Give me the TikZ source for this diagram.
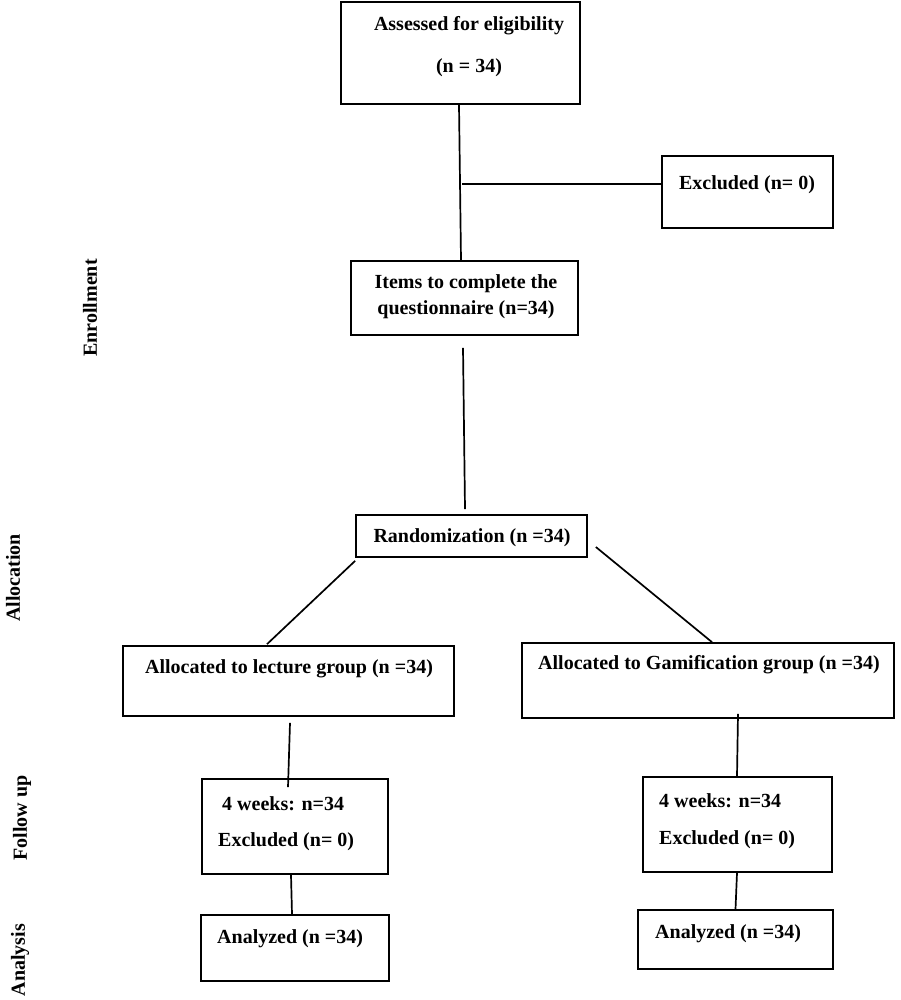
\documentclass[tikz,border=0pt]{standalone}
\usepackage{fontspec}
\setmainfont{Liberation Serif}
\usetikzlibrary{positioning}
\begin{document}
\begin{tikzpicture}[x=1pt,y=-1pt,
  box/.style={draw,line width=1.7pt,inner sep=0pt},
  basetxt/.style={font=\fontsize{20}{26}\selectfont\bfseries,inner sep=0pt,align=center},
  txt/.style={basetxt,yshift=-2pt},
  ltxt/.style={txt,anchor=west},
  side/.style={basetxt,rotate=90},
  conn/.style={line width=1.7pt}]
\useasboundingbox (0,0) rectangle (901,1000);
\fill[white] (0,0) rectangle (901,1000);
% boxes
\node[box,minimum width=239pt,minimum height=102pt] (assess) at (460.5,53) {};
\node[box,minimum width=171pt,minimum height=72pt] (excl) at (747.5,192) {};
\node[box,minimum width=227pt,minimum height=74pt] (items) at (464.5,298) {};
\node[box,minimum width=231pt,minimum height=42pt] (rand) at (471.5,536) {};
\node[box,minimum width=331pt,minimum height=70pt] (lect) at (288.5,681) {};
\node[box,minimum width=372pt,minimum height=75pt] (gam) at (708,680.5) {};
\node[box,minimum width=186pt,minimum height=95pt] (fl) at (295,826.5) {};
\node[box,minimum width=189pt,minimum height=95pt] (fr) at (737.5,824.5) {};
\node[box,minimum width=188pt,minimum height=66pt] (al) at (295,948) {};
\node[box,minimum width=195pt,minimum height=59pt] (ar) at (735.5,939.5) {};
% texts
\node[txt] (t1) at (469,24) {Assessed for eligibility};
\node[txt] (t2) at (469,66) {(n = 34)};
\node[txt] (t3) at (747,183) {Excluded (n= 0)};
\node[txt] (t4) at (466,295) {Items to complete the\\questionnaire (n=34)};
\node[txt] (t5) at (472,536) {Randomization (n =34)};
\node[txt] (t6) at (289,667) {Allocated to lecture group (n =34)};
\node[txt] (t7) at (709,663) {Allocated to Gamification group (n =34)};
\node[ltxt] (t8) at (222,802) {4 weeks: n=34};
\node[ltxt] (t9) at (218,840) {Excluded (n= 0)};
\node[ltxt] (t10) at (659,799) {4 weeks: n=34};
\node[ltxt] (t11) at (659,838) {Excluded (n= 0)};
\node[ltxt] (t12) at (217,937) {Analyzed (n =34)};
\node[ltxt] (t13) at (655,932) {Analyzed (n =34)};
% side labels
\node[side] (s1) at (90,308) {Enrollment};
\node[side] (s2) at (13,578) {Allocation};
\node[side] (s3) at (22,818) {Follow up};
\node[side] (s4) at (20,960) {Analysis};
% connectors
\coordinate (ej) at (462,184);
\draw[conn] ([xshift=-1.5pt]assess.south) -- ([xshift=-3.5pt]items.north);
\draw[conn] (ej) -- (ej -| excl.west);
\draw[conn] ([xshift=-1.5pt,yshift=-12pt]items.south) -- ([xshift=-6.5pt,yshift=5pt]rand.north);
\draw[conn] ([yshift=-3pt]rand.south west) -- ([xshift=-21.5pt,yshift=1pt]lect.north);
\draw[conn] ([xshift=8pt,yshift=-11pt]rand.east) -- ([xshift=4pt]gam.north);
\draw[conn] ([xshift=1.5pt,yshift=-6pt]lect.south) -- ([xshift=-7pt,yshift=-9pt]fl.north);
\draw[conn] ([xshift=30pt,yshift=5pt]gam.south) -- ([xshift=-0.5pt]fr.north);
\draw[conn] ([xshift=-4pt]fl.south) -- ([xshift=-3pt]al.north);
\draw[conn] ([xshift=-0.5pt]fr.south) -- (ar.north);
\end{tikzpicture}
\end{document}
